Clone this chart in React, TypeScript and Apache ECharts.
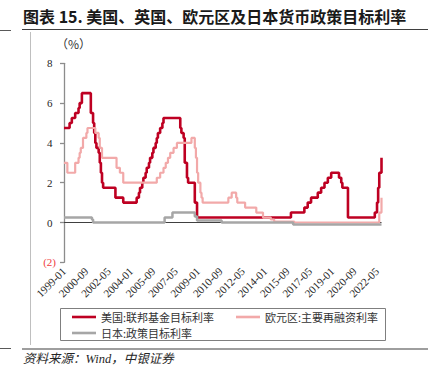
import React, { useEffect, useRef } from "react";
import * as echarts from "echarts";

const titleText = "图表 15. 美国、英国、欧元区及日本货币政策目标利率";
const sourceText = "资料来源：Wind，中银证券";
const unitText = "（%）";
const seriesNames = ["美国:联邦基金目标利率", "欧元区:主要再融资利率", "日本:政策目标利率"];
const seriesColors = ["#BE0022", "#F2A9A9", "#A6A6A6"];
const firstMonth = "1999-01";
const lastMonth = "2022-09";
const yMin = -2;
const yMax = 8;
const yStep = 2;

// change points [month, rate]; each rate holds until the next change
const fedRate: [string, number][] = [
  ["1999-01", 4.75], ["1999-06", 5.0], ["1999-08", 5.25], ["1999-11", 5.5],
  ["2000-02", 5.75], ["2000-03", 6.0], ["2000-05", 6.5], ["2001-01", 5.5],
  ["2001-03", 5.0], ["2001-04", 4.5], ["2001-05", 4.0], ["2001-06", 3.75],
  ["2001-08", 3.5], ["2001-09", 3.0], ["2001-10", 2.5], ["2001-11", 2.0],
  ["2001-12", 1.75], ["2002-11", 1.25], ["2003-06", 1.0], ["2004-06", 1.25],
  ["2004-08", 1.5], ["2004-09", 1.75], ["2004-11", 2.0], ["2004-12", 2.25],
  ["2005-02", 2.5], ["2005-03", 2.75], ["2005-05", 3.0], ["2005-06", 3.25],
  ["2005-08", 3.5], ["2005-09", 3.75], ["2005-11", 4.0], ["2005-12", 4.25],
  ["2006-01", 4.5], ["2006-03", 4.75], ["2006-05", 5.0], ["2006-06", 5.25],
  ["2007-09", 4.75], ["2007-10", 4.5], ["2007-12", 4.25], ["2008-01", 3.0],
  ["2008-03", 2.25], ["2008-04", 2.0], ["2008-10", 1.0], ["2008-12", 0.25],
  ["2015-12", 0.5], ["2016-12", 0.75], ["2017-03", 1.0], ["2017-06", 1.25],
  ["2017-12", 1.5], ["2018-03", 1.75], ["2018-06", 2.0], ["2018-09", 2.25],
  ["2018-12", 2.5], ["2019-07", 2.25], ["2019-09", 2.0], ["2019-10", 1.75],
  ["2020-03", 0.25], ["2022-03", 0.5], ["2022-05", 1.0], ["2022-06", 1.75],
  ["2022-07", 2.5], ["2022-09", 3.25],
];

const ecbRate: [string, number][] = [
  ["1999-01", 3.0], ["1999-04", 2.5], ["1999-11", 3.0], ["2000-02", 3.25],
  ["2000-03", 3.5], ["2000-04", 3.75], ["2000-06", 4.25], ["2000-09", 4.5],
  ["2000-10", 4.75], ["2001-05", 4.5], ["2001-08", 4.25], ["2001-09", 3.75],
  ["2001-11", 3.25], ["2002-12", 2.75], ["2003-03", 2.5], ["2003-06", 2.0],
  ["2005-12", 2.25], ["2006-03", 2.5], ["2006-06", 2.75], ["2006-08", 3.0],
  ["2006-10", 3.25], ["2006-12", 3.5], ["2007-03", 3.75], ["2007-06", 4.0],
  ["2008-07", 4.25], ["2008-10", 3.75], ["2008-11", 3.25], ["2008-12", 2.5],
  ["2009-01", 2.0], ["2009-03", 1.5], ["2009-04", 1.25], ["2009-05", 1.0],
  ["2011-04", 1.25], ["2011-07", 1.5], ["2011-11", 1.25], ["2011-12", 1.0],
  ["2012-07", 0.75], ["2013-05", 0.5], ["2013-11", 0.25], ["2014-06", 0.15],
  ["2014-09", 0.05], ["2016-03", 0.0], ["2022-07", 0.5], ["2022-09", 1.25],
];

const bojRate: [string, number][] = [
  ["1999-01", 0.25], ["2001-02", 0.15], ["2001-03", 0.0], ["2006-07", 0.25],
  ["2007-02", 0.5], ["2008-10", 0.3], ["2008-12", 0.1], ["2010-10", 0.0],
  ["2016-02", -0.1], ["2022-09", -0.1],
];

function buildMonths(start: string, end: string): string[] {
  const out: string[] = [];
  let y = parseInt(start.slice(0, 4), 10);
  let m = parseInt(start.slice(5, 7), 10);
  const ey = parseInt(end.slice(0, 4), 10);
  const em = parseInt(end.slice(5, 7), 10);
  while (y < ey || (y === ey && m <= em)) {
    out.push(`${y}-${m < 10 ? "0" + m : m}`);
    m += 1;
    if (m > 12) { m = 1; y += 1; }
  }
  return out;
}

const categories = buildMonths(firstMonth, lastMonth);

const cjk = "'Noto Sans CJK SC', sans-serif";
const serif = "'Liberation Serif', 'Noto Sans CJK SC', serif";

export default function App() {
  const ref = useRef<HTMLDivElement>(null);
  useEffect(() => {
    if (!ref.current) return;
    const chart = echarts.init(ref.current, undefined, { renderer: "svg" });
    const seriesData = [fedRate, ecbRate, bojRate];
    const widths = [2.6, 2.2, 2.5];
    const legendPos = [
      { left: 72, top: 310 },
      { left: 236, top: 310 },
      { left: 72, top: 326 },
    ];
    chart.setOption({
      animation: false,
      backgroundColor: "#ffffff",
      grid: { left: 64, right: 46.5, top: 63.3, bottom: 114.7, containLabel: false },
      legend: seriesNames.map((n, i) => ({
        data: [n],
        left: legendPos[i].left,
        top: legendPos[i].top,
        icon: "rect",
        itemWidth: 24,
        itemHeight: 2.6,
        itemGap: 5,
        padding: 0,
        selectedMode: false,
        textStyle: { fontFamily: cjk, fontSize: 11, color: "#333333", lineHeight: 14 },
      })),
      xAxis: {
        type: "category",
        data: categories,
        boundaryGap: false,
        axisLine: { show: false },
        axisTick: { show: false },
        splitLine: { show: false },
        axisLabel: {
          interval: 19,
          rotate: 45,
          margin: 7,
          fontFamily: serif,
          fontSize: 11,
          color: "#262626",
        },
      },
      yAxis: {
        type: "value",
        min: yMin,
        max: yMax,
        interval: yStep,
        splitLine: { show: false },
        axisLine: { show: true, lineStyle: { color: "#8C8C8C", width: 1.3 } },
        axisTick: { show: true, length: 4, lineStyle: { color: "#8C8C8C", width: 1.3 } },
        axisLabel: {
          margin: 8,
          fontFamily: serif,
          fontSize: 11,
          color: "#262626",
          formatter: (v: number) => (v < 0 ? `{n|(${Math.abs(v)})}` : `{p|${v}}`),
          rich: {
            n: { color: "#F03C3C", fontFamily: serif, fontSize: 11 },
            p: { color: "#262626", fontFamily: serif, fontSize: 11, padding: [0, 3.5, 0, 0] },
          },
        },
      },
      series: seriesNames.map((n, i) => ({
        name: n,
        type: "line",
        step: "end",
        data: seriesData[i],
        showSymbol: false,
        symbol: "none",
        color: seriesColors[i],
        lineStyle: { color: seriesColors[i], width: widths[i] },
        ...(i === 0
          ? {
              markLine: {
                silent: true,
                z: 1,
                symbol: ["none", "none"],
                label: { show: false },
                lineStyle: { color: "#404040", width: 1, type: "solid" },
                data: [{ yAxis: 0 }],
              },
            }
          : {}),
      })),
      graphic: [
        {
          type: "text",
          left: 23,
          top: 8,
          style: {
            text: titleText,
            font: `bold 16px ${cjk}`,
            fill: "#1A1A1A",
          },
        },
        { type: "line", shape: { x1: 22, y1: 29.5, x2: 428, y2: 29.5 }, style: { stroke: "#3F3F3F", lineWidth: 1.2 } },
        { type: "line", shape: { x1: 0, y1: 30.5, x2: 11, y2: 30.5 }, style: { stroke: "#595959", lineWidth: 1 } },
        { type: "line", shape: { x1: 30.5, y1: 32, x2: 30.5, y2: 345 }, style: { stroke: "#BFBFBF", lineWidth: 1 } },
        { type: "line", shape: { x1: 22, y1: 349, x2: 428, y2: 349 }, style: { stroke: "#3F3F3F", lineWidth: 1.2 } },
        { type: "line", shape: { x1: 0, y1: 348.5, x2: 11, y2: 348.5 }, style: { stroke: "#595959", lineWidth: 1 } },
        {
          type: "text",
          left: 23,
          top: 353,
          style: { text: sourceText, font: `italic 12.5px ${serif}`, fill: "#262626" },
        },
        {
          type: "text",
          left: 56,
          top: 37,
          style: { text: unitText, font: `12px ${cjk}`, fill: "#333333" },
        },
        {
          type: "rect",
          shape: { x: 60.5, y: 308.5, width: 325, height: 32 },
          style: { fill: "none", stroke: "#7F7F7F", lineWidth: 1 },
          z: 0,
        },
      ],
    });
    return () => chart.dispose();
  }, []);
  return (
    <div
      ref={ref}
      style={{ position: "fixed", left: 0, top: 0, width: 428, height: 377, background: "#fff" }}
    />
  );
}
